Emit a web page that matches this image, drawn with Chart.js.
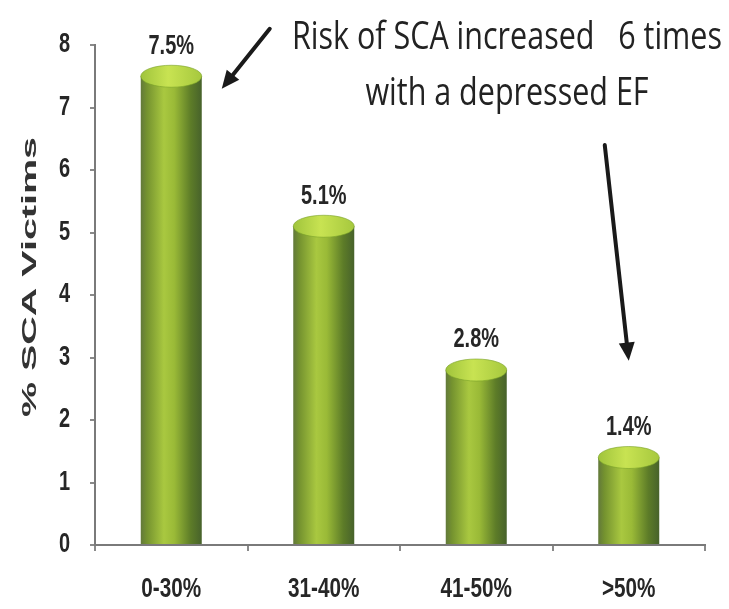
<!DOCTYPE html>
<html>
<head>
<meta charset="utf-8">
<script src="https://cdn.jsdelivr.net/npm/chart.js@4.4.1/dist/chart.umd.min.js"></script>
<style>
  html, body { margin: 0; padding: 0; background: #ffffff; }
  #wrap { width: 729px; height: 609px; position: relative; }
</style>
</head>
<body>
<div id="wrap"><canvas id="c" width="729" height="609"></canvas></div>
<script>
// Ejection-fraction groups and the share of sudden-cardiac-arrest victims in each
const efRanges = ['0-30%', '31-40%', '41-50%', '>50%'];
const scaVictims = [7.5, 5.1, 2.8, 1.4];
const valueLabels = ['7.5%', '5.1%', '2.8%', '1.4%'];
const axisTitle = '% SCA Victims';
const noteLines = ['Risk of SCA increased   6 times', 'with a depressed EF'];

const BOLD = '"Liberation Sans", Arial, sans-serif';
const INK = '#262626';
const SQUEEZE = 0.74;   // horizontal condensing of the bold labels

// Horizontal shading that makes each bar read as a cylinder
function barFill(ctx) {
  const chart = ctx.chart;
  const xs = chart.scales.x;
  if (!chart.chartArea || !xs) return '#7fa22f';
  const cx = xs.getPixelForValue(ctx.dataIndex);
  const half = (xs.width / efRanges.length) * 0.4 / 2;
  const g = chart.ctx.createLinearGradient(cx - half, 0, cx + half, 0);
  g.addColorStop(0.00, '#62793a');
  g.addColorStop(0.10, '#74922f');
  g.addColorStop(0.38, '#a9c840');
  g.addColorStop(0.55, '#9aba37');
  g.addColorStop(0.82, '#5d7c28');
  g.addColorStop(1.00, '#47622b');
  return g;
}

// condensed bold text, drawn centred/aligned at (x, y)
function squeezedText(ctx, text, x, y, size, align) {
  ctx.save();
  ctx.font = 'bold ' + size + 'px ' + BOLD;
  ctx.fillStyle = INK;
  ctx.textAlign = align;
  ctx.textBaseline = 'middle';
  ctx.translate(x, y);
  ctx.scale(SQUEEZE, 1);
  ctx.fillText(text, 0, 0);
  ctx.restore();
}

// Cylinder caps and value labels on top of the bars
const cylinderTops = {
  id: 'cylinderTops',
  afterDatasetsDraw(chart) {
    const ctx = chart.ctx;
    const meta = chart.getDatasetMeta(0);
    meta.data.forEach((bar, i) => {
      const { x, y, width } = bar.getProps(['x', 'y', 'width'], true);
      const rx = width / 2, ry = 11;
      ctx.save();
      const g = ctx.createLinearGradient(x - rx, 0, x + rx, 0);
      g.addColorStop(0, '#a0c43c');
      g.addColorStop(0.45, '#c8e352');
      g.addColorStop(1, '#a6c83e');
      ctx.fillStyle = g;
      ctx.beginPath();
      ctx.ellipse(x, y, rx, ry, 0, 0, Math.PI * 2);
      ctx.fill();
      ctx.strokeStyle = 'rgba(120,160,40,0.6)';
      ctx.lineWidth = 1;
      ctx.stroke();
      ctx.restore();
      squeezedText(ctx, valueLabels[i], x, y - 30, 27, 'center');
    });
  }
};

// Tick labels drawn condensed at the positions the scales report
const condensedTicks = {
  id: 'condensedTicks',
  afterDraw(chart) {
    const ctx = chart.ctx;
    const ys = chart.scales.y, xs = chart.scales.x;
    ys.ticks.forEach((t, i) => {
      squeezedText(ctx, String(t.value), ys.right - 25, ys.getPixelForTick(i), 27, 'right');
    });
    xs.ticks.forEach((t, i) => {
      squeezedText(ctx, efRanges[t.value], xs.getPixelForTick(i), xs.top + 44, 28, 'center');
    });
  }
};

function arrow(ctx, x1, y1, x2, y2) {
  const ang = Math.atan2(y2 - y1, x2 - x1);
  const len = 18, w = 8;
  const bx = x2 - len * Math.cos(ang), by = y2 - len * Math.sin(ang);
  ctx.beginPath();
  ctx.moveTo(x1, y1);
  ctx.lineTo(bx, by);
  ctx.stroke();
  ctx.beginPath();
  ctx.moveTo(x2, y2);
  ctx.lineTo(bx + w * Math.sin(ang), by - w * Math.cos(ang));
  ctx.lineTo(bx - w * Math.sin(ang), by + w * Math.cos(ang));
  ctx.closePath();
  ctx.fill();
}

// Axis title, callout text and arrows
const callouts = {
  id: 'callouts',
  afterDraw(chart) {
    const ctx = chart.ctx;
    const ys = chart.scales.y;
    const meta = chart.getDatasetMeta(0);

    // rotated y-axis title, stretched along its length
    ctx.save();
    ctx.font = 'bold 21px ' + BOLD;
    ctx.fillStyle = '#333333';
    const tw = ctx.measureText(axisTitle).width;
    ctx.translate(30, 277);
    ctx.rotate(-Math.PI / 2);
    ctx.scale(280 / tw, 1);
    ctx.textAlign = 'center';
    ctx.textBaseline = 'middle';
    ctx.fillText(axisTitle, 0, 0);
    ctx.restore();

    // callout text
    ctx.save();
    ctx.font = '39px "Open Sans", "Noto Sans", sans-serif';
    ctx.fillStyle = '#222222';
    ctx.textAlign = 'center';
    ctx.textBaseline = 'alphabetic';
    const w1 = ctx.measureText(noteLines[0]).width;
    ctx.translate(507, 0);
    ctx.scale(430 / w1, 1);
    ctx.fillText(noteLines[0], 0, 49);
    ctx.fillText(noteLines[1], 0, 105);
    ctx.restore();

    // arrows pointing at the lowest and highest EF groups
    ctx.save();
    ctx.strokeStyle = '#1a1a1a';
    ctx.fillStyle = '#1a1a1a';
    ctx.lineWidth = 4;
    ctx.lineCap = 'round';
    const b0 = meta.data[0].getProps(['x', 'width'], true);
    const tipX = b0.x + b0.width / 2 + 20, tipY = ys.getPixelForValue(7.3);
    arrow(ctx, tipX + 48, tipY - 60, tipX, tipY);
    const b3 = meta.data[3].getProps(['x'], true);
    arrow(ctx, b3.x - 24, ys.getPixelForValue(6.4), b3.x, ys.getPixelForValue(2.95));
    ctx.restore();
  }
};

new Chart(document.getElementById('c'), {
  type: 'bar',
  data: {
    labels: efRanges,
    datasets: [{
      data: scaVictims,
      backgroundColor: barFill,
      borderWidth: 0,
      categoryPercentage: 0.8,
      barPercentage: 0.5
    }]
  },
  options: {
    responsive: false,
    animation: false,
    events: [],
    layout: { padding: { top: 45, right: 24, left: 0, bottom: 0 } },
    plugins: { legend: { display: false }, tooltip: { enabled: false } },
    scales: {
      y: {
        min: 0,
        max: 8,
        ticks: { stepSize: 1, display: false },
        grid: { drawOnChartArea: false, tickLength: 5, color: '#8a8a8a', lineWidth: 2 },
        border: { color: '#7a7a7a', width: 2 },
        afterFit(scale) { scale.width = 95; }
      },
      x: {
        ticks: { display: false },
        grid: { drawOnChartArea: false, tickLength: 6, color: '#8a8a8a', lineWidth: 2, offset: true },
        border: { color: '#7a7a7a', width: 2 },
        afterFit(scale) { scale.height = 64; }
      }
    }
  },
  plugins: [cylinderTops, condensedTicks, callouts]
});
</script>
</body>
</html>
